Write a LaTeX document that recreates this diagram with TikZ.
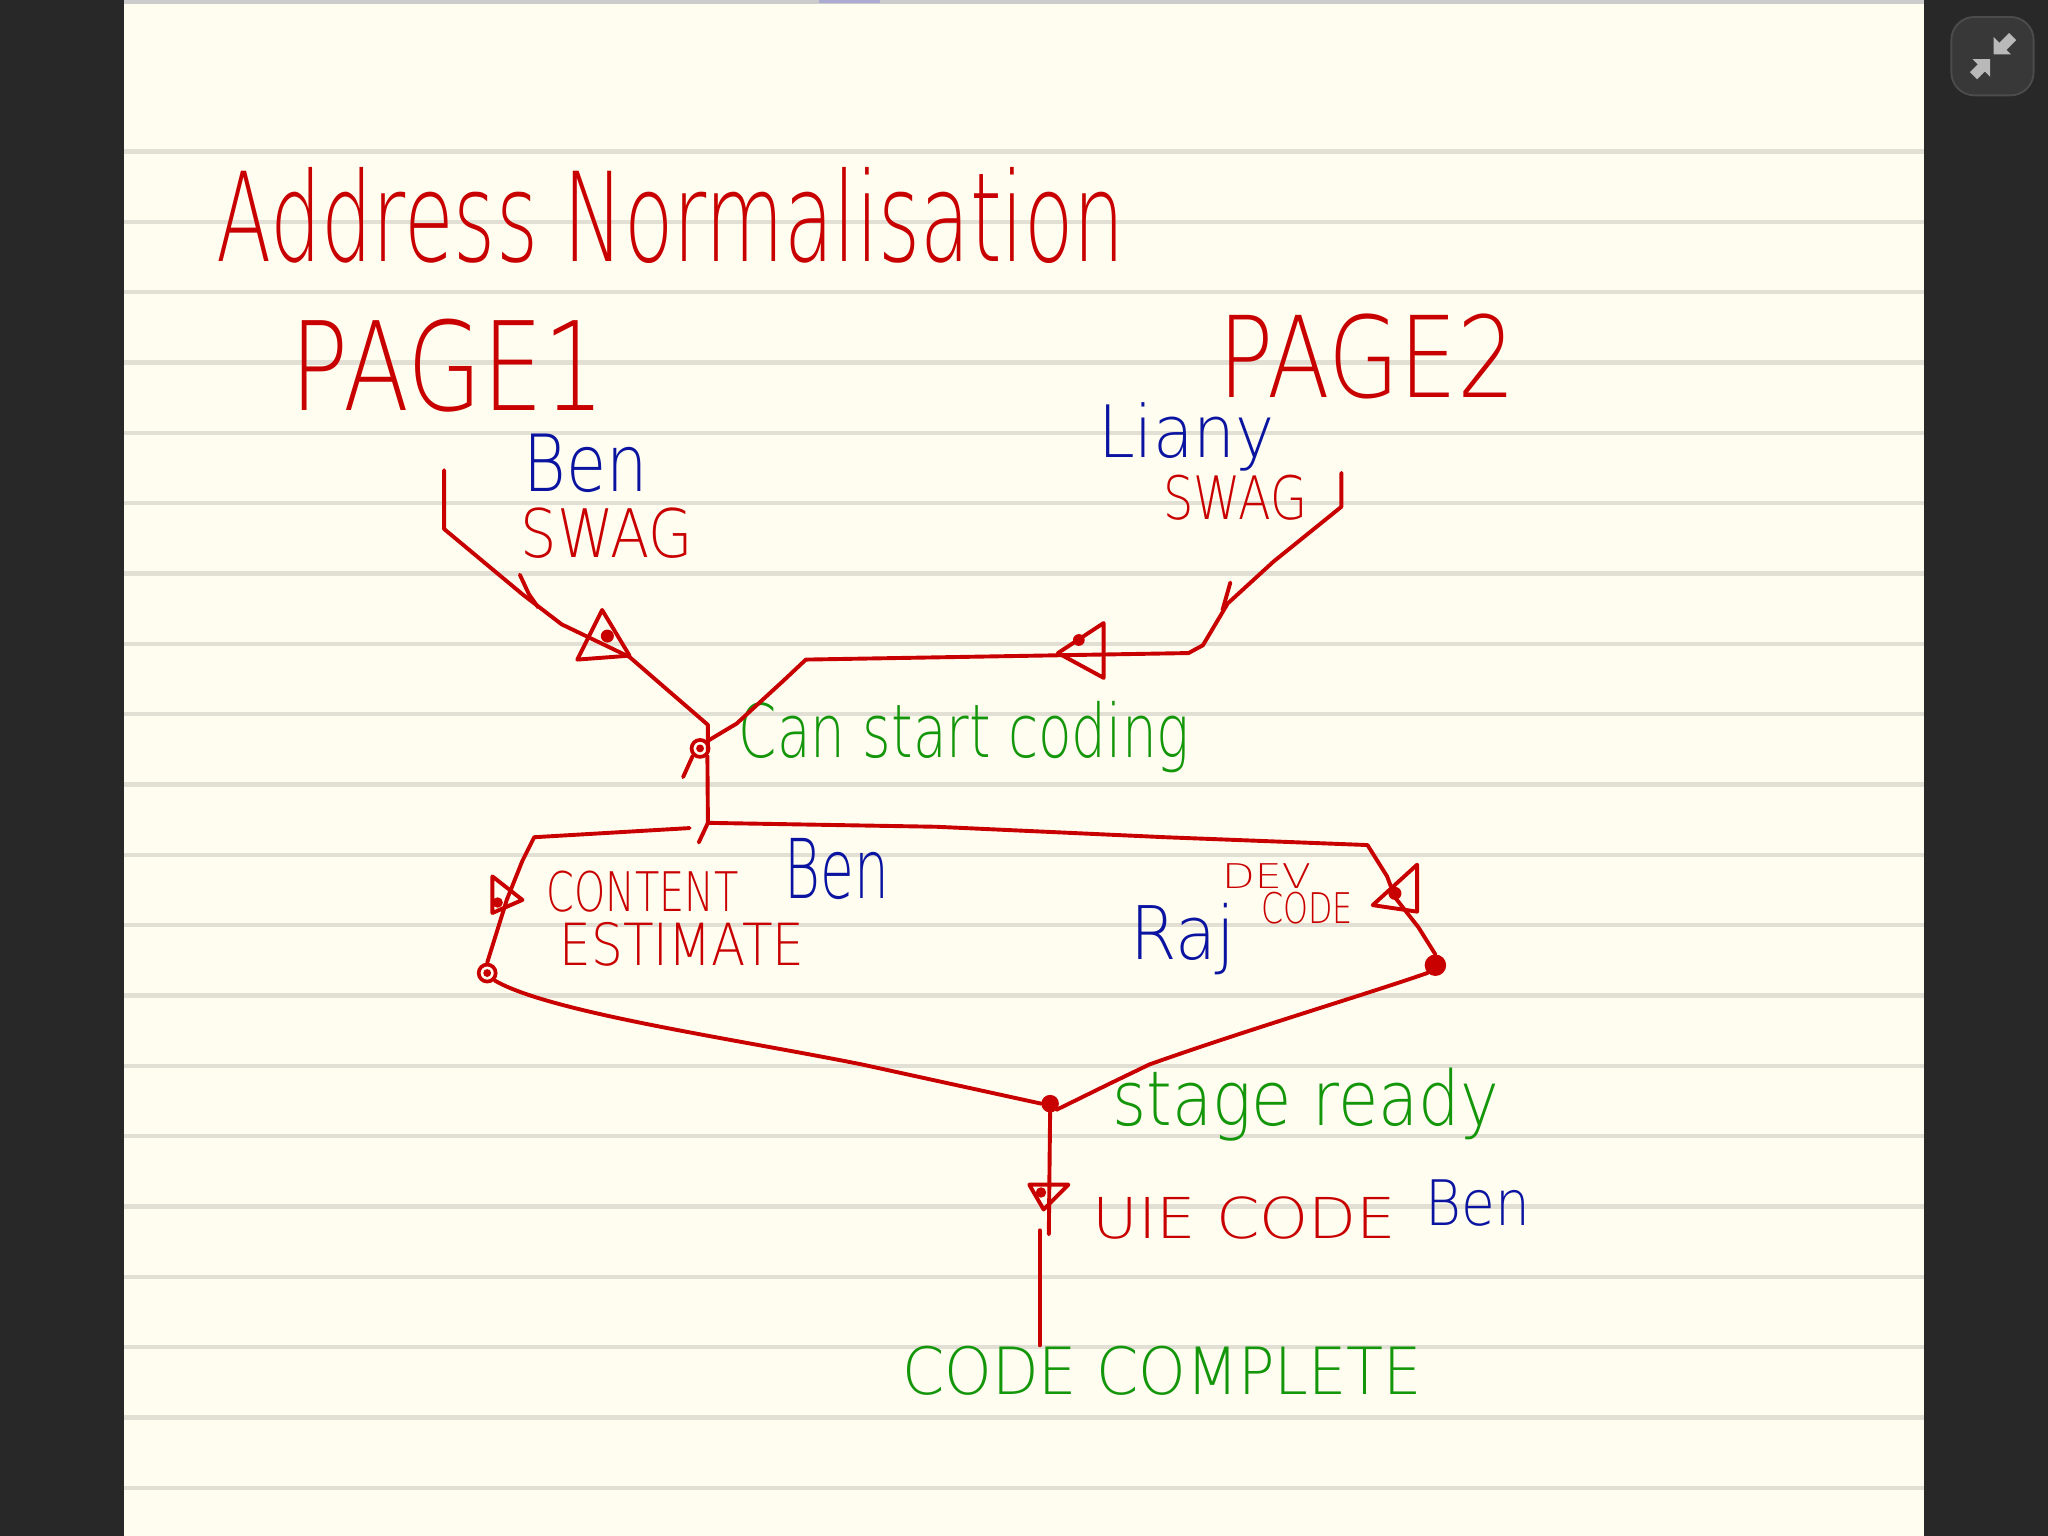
\documentclass[tikz,border=0pt]{standalone}
\usepackage{fontspec}
\usepackage{graphicx}
\usepackage{tikz}

\newfontfamily\penfont{DejaVu Sans}[UprightFont=* ExtraLight]

\definecolor{inkred}{RGB}{200,0,0}
\definecolor{inkblue}{RGB}{10,20,160}
\definecolor{inkgreen}{RGB}{20,150,10}
\definecolor{paper}{RGB}{255,253,240}
\definecolor{ruling}{RGB}{226,224,212}
\definecolor{slate}{RGB}{40,40,40}

% squeeze a word into a box of given width and height
\newcommand{\handw}[3]{\resizebox{#1}{#2}{\penfont #3}}

\tikzset{
  wire/.style={inkred,line width=0.85pt,line cap=round,line join=round},
  ink/.style={inner sep=0pt,anchor=base west},
  hollowdot/.style={circle,draw=inkred,line width=0.8pt,inner sep=0pt,minimum size=0.13cm},
  fulldot/.style={circle,draw=inkred,fill=inkred,inner sep=0pt,minimum size=0.12cm},
  pointer/.style={fill=gray!55,draw=gray!55,line join=miter},
}

\begin{document}
\begin{tikzpicture}[x=0.01cm,y=-0.01cm]
  \useasboundingbox (0,0) rectangle (1568,1176);
  % page and ruling
  \fill[slate] (0,0) rectangle (1568,1176);
  \fill[paper] (95,0) rectangle (1473,1176);
  \draw[gray!40,line width=1pt] (95,1.5) -- (1473,1.5);
  \fill[blue!30!gray!50] (627,0) rectangle (674,2.5);
  \foreach \k in {0,...,19} {
    \draw[ruling,line width=1pt] (95,{116+53.85*\k}) -- (1473,{116+53.85*\k});
  }
  % corner button
  \draw[black!70,fill=black!78,rounded corners=5pt] (1494,13) rectangle (1557,73);
  \draw[gray!55,line width=2.2pt] (1541,28) -- (1532,37);
  \fill[pointer] (1527,41) -- (1527,30) -- (1538,41) -- cycle;
  \draw[gray!55,line width=2.2pt] (1511,58) -- (1519,50);
  \fill[pointer] (1523,46) -- (1512,46) -- (1523,57) -- cycle;

  % headings
  \node[ink,inkred] (title) at (165,200) {\handw{6.95cm}{0.72cm}{Address Normalisation}};
  \node[ink,inkred] (page1) at (222,314) {\handw{2.40cm}{0.70cm}{PAGE1}};
  \node[ink,inkred] (page2) at (932,304) {\handw{2.28cm}{0.64cm}{PAGE2}};

  % swag tasks
  \node[ink,inkblue] (benA) at (400,376) {\handw{0.95cm}{0.44cm}{Ben}};
  \node[ink,inkred] (swagA) at (398,427) {\handw{1.32cm}{0.38cm}{SWAG}};
  \node[ink,inkblue] (liany) at (840,350) {\handw{1.35cm}{0.42cm}{Liany}};
  \node[ink,inkred] (swagB) at (890,398) {\handw{1.10cm}{0.34cm}{SWAG}};
  \coordinate (p1top) at (340,360);
  \coordinate (p2top) at (1027,362);

  % first milestone
  \node[hollowdot] (jA) at (536,573) {};
  \fill[inkred] (jA) circle (0.03cm);
  \node[ink,inkgreen] (start) at (565,580) {\handw{3.45cm}{0.43cm}{Can start coding}};
  \draw[wire] (p1top) -- (340,405) -- (400,455) -- (430,478) -- (482,503) -- (505,523)
    -- (542,555) -- (542,575);
  \draw[wire] (398,440) -- (405,455) -- (412,465);
  \draw[wire] (p2top) -- (1027,388) -- (975,430) -- (940,462) -- (921,494) -- (910,500)
    -- (617,505) -- (600,521) -- (564,554) -- (jA.north east);
  \draw[wire] (jA.south west) -- (523,595);
  \draw[wire] (942,446) -- (936,467);
  \draw[wire] (442,505) -- (482,502) -- (461,467) -- cycle;
  \fill[inkred] (465,487) circle (0.05cm);
  \draw[wire] (810,500) -- (845,477) -- (845,519) -- cycle;
  \fill[inkred] (826,490) circle (0.045cm);

  % parallel tasks
  \node[ink,inkred] (content) at (418,698) {\handw{1.47cm}{0.31cm}{CONTENT}};
  \node[ink,inkred] (estimate) at (428,739) {\handw{1.87cm}{0.33cm}{ESTIMATE}};
  \node[ink,inkblue] (benB) at (600,688) {\handw{0.80cm}{0.46cm}{Ben}};
  \node[ink,inkred] (dev) at (935,680) {\handw{0.68cm}{0.19cm}{DEV}};
  \node[ink,inkred] (devcode) at (965,707) {\handw{0.70cm}{0.24cm}{CODE}};
  \node[ink,inkblue] (raj) at (865,735) {\handw{0.80cm}{0.43cm}{Raj}};
  \node[hollowdot] (jL) at (373,745) {};
  \fill[inkred] (jL) circle (0.03cm);
  \node[fulldot,minimum size=0.15cm] (jR) at (1099,739) {};
  \draw[wire] (jA.south east) -- (542,630) -- (535,645);
  \draw[wire] (542,630) -- (717,633) -- (892,641) -- (1047,647) -- (1062,671)
    -- (1068,687) -- (1086,710) -- (jR.north);
  \draw[wire] (528,634) -- (409,641) -- (400,659) -- (388,689) -- (jL.north);
  \draw[wire] (377,671) -- (400,689) -- (377,699) -- cycle;
  \fill[inkred] (381,691) circle (0.04cm);
  \draw[wire] (1051,693) -- (1085,662) -- (1085,698) -- cycle;
  \fill[inkred] (1068,684) circle (0.05cm);

  % second milestone
  \node[fulldot] (jB) at (804,845) {};
  \node[ink,inkgreen] (stage) at (851,862) {\handw{2.96cm}{0.44cm}{stage ready}};
  \draw[wire] (jL.south east) .. controls (420,775) and (560,795) .. (660,815)
    -- (jB.west);
  \draw[wire] (jR.south west) .. controls (1050,760) and (950,790) .. (880,815)
    -- (851,829) -- (jB.south east);

  % last task
  \node[ink,inkred] (uie) at (836,948) {\handw{2.32cm}{0.32cm}{UIE CODE}};
  \node[ink,inkblue] (benC) at (1091,938) {\handw{0.80cm}{0.35cm}{Ben}};
  \node[ink,inkgreen] (done) at (690,1068) {\handw{3.98cm}{0.37cm}{CODE COMPLETE}};
  \draw[wire] (jB.south) -- (803,945);
  \draw[wire] (796,942) -- (796,1030);
  \draw[wire] (788,907) -- (818,907) -- (799,926) -- cycle;
  \fill[inkred] (797,913) circle (0.04cm);
\end{tikzpicture}
\end{document}
